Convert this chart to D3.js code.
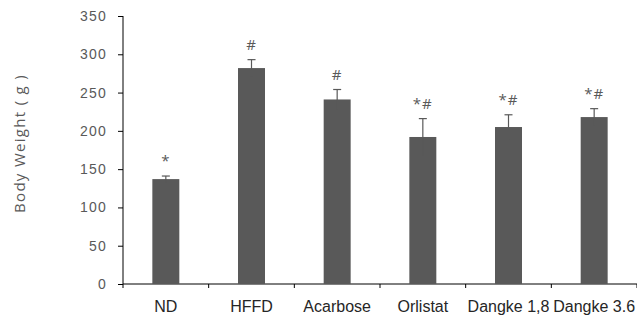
<!DOCTYPE html>
<html>
<head>
<meta charset="utf-8">
<script src="https://cdn.jsdelivr.net/npm/d3@7"></script>
<style>
  body { margin: 0; background: #fff; }
  svg { display: block; font-family: "Open Sans", Calibri, sans-serif; }
  .y-axis text { fill: #595959; font-size: 14px; letter-spacing: 1.2px; }
  .x-axis text { fill: #262626; font-size: 16px; }
  .axis path, .axis line { stroke: #000; }
  .bar { fill: #595959; }
  .err { stroke: #595959; stroke-width: 1.2; }
  .mark { fill: #595959; font-size: 15px; letter-spacing: 1px; }
  .title { fill: #595959; font-size: 15px; letter-spacing: 1.3px; }
</style>
</head>
<body>
<div id="chart"></div>
<script>

var groups = ["ND", "HFFD", "Acarbose", "Orlistat", "Dangke 1,8", "Dangke 3.6"];
var means = [137, 282, 241, 192, 205, 218];
var errors = [4, 11, 13, 24, 16, 11];
var marks = ["*", "#", "#", "*#", "*#", "*#"];
var yTicks = [0, 50, 100, 150, 200, 250, 300, 350];

var data = groups.map(function(g, i) {
    return { group: g, mean: means[i], err: errors[i], mark: marks[i] };
});

var margin = {top: 16, right: 0, bottom: 36, left: 123};
var width = 637 - margin.left - margin.right,
    height = 320 - margin.top - margin.bottom;

var svg = d3.select("#chart").append("svg")
    .attr("width", 637)
    .attr("height", 320)
    .append("g")
    .attr("transform", "translate(" + margin.left + "," + margin.top + ")");

var x = d3.scaleBand()
    .domain(groups)
    .range([0, width])
    .paddingInner(0.685)
    .paddingOuter(0.3425);

var y = d3.scaleLinear()
    .domain([0, 350])
    .range([height, 0]);

// Axes
svg.append("g")
    .attr("class", "axis y-axis")
    .call(d3.axisLeft(y).tickValues(yTicks).tickSize(5).tickPadding(11))
    .call(function(g) { g.select(".domain").attr("d", "M0," + height + "V0"); });

var xAxis = svg.append("g")
    .attr("class", "axis x-axis")
    .attr("transform", "translate(0," + height + ")")
    .call(d3.axisBottom(x).tickSize(0).tickPadding(17));
xAxis.select(".domain").attr("d", "M0,0H" + width);

// category dividers below the axis
var step = x.step();
xAxis.selectAll(".div-tick")
    .data(d3.range(groups.length + 1))
    .enter().append("line")
    .attr("class", "div-tick")
    .attr("x1", function(d) { return d * step; })
    .attr("x2", function(d) { return d * step; })
    .attr("y1", 0)
    .attr("y2", 4)
    .attr("stroke", "#000");

// Bars
svg.selectAll(".bar")
    .data(data)
    .enter().append("rect")
    .attr("class", "bar")
    .attr("x", function(d) { return x(d.group); })
    .attr("y", function(d) { return y(d.mean); })
    .attr("width", x.bandwidth())
    .attr("height", function(d) { return height - y(d.mean); });

// Error bars
var cx = function(d) { return x(d.group) + x.bandwidth() / 2; };
svg.selectAll(".err-v")
    .data(data)
    .enter().append("line")
    .attr("class", "err")
    .attr("x1", cx).attr("x2", cx)
    .attr("y1", function(d) { return y(d.mean - d.err); })
    .attr("y2", function(d) { return y(d.mean + d.err); });

svg.selectAll(".err-cap")
    .data(data)
    .enter().append("line")
    .attr("class", "err")
    .attr("x1", function(d) { return cx(d) - 4; })
    .attr("x2", function(d) { return cx(d) + 4; })
    .attr("y1", function(d) { return y(d.mean + d.err); })
    .attr("y2", function(d) { return y(d.mean + d.err); });

// Significance marks
svg.selectAll(".mark")
    .data(data)
    .enter().append("text")
    .attr("class", "mark")
    .attr("x", cx)
    .attr("y", function(d) { return y(d.mean + d.err) - 10; })
    .attr("text-anchor", "middle")
    .text(function(d) { return d.mark; });

// Y title
svg.append("text")
    .attr("class", "title")
    .attr("transform", "translate(-98.5," + (height / 2 - 6.5) + ") rotate(-90)")
    .attr("text-anchor", "middle")
    .text("Body Weight ( g )");

</script>
</body>
</html>
